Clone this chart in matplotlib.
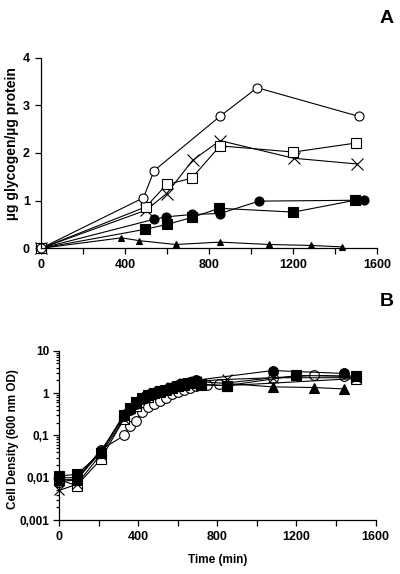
import numpy as np
import matplotlib
matplotlib.use("Agg")
import matplotlib.pyplot as plt
from matplotlib.ticker import FixedLocator, LogLocator, NullFormatter

plt.rcParams['font.family'] = ['Liberation Sans', 'DejaVu Sans']
plt.rcParams['font.weight'] = 'bold'

# ---- panel A: glycogen content ----
a_open_circle_t = [0, 488, 539, 853, 1030, 1513]
a_open_circle_y = [0, 1.06, 1.63, 2.77, 3.37, 2.77]

a_open_square_t = [0, 500, 599, 718, 853, 1203, 1502]
a_open_square_y = [0, 0.87, 1.34, 1.47, 2.15, 2.02, 2.21]

a_cross_t = [0, 500, 599, 723, 853, 1204, 1505]
a_cross_y = [0, 0.80, 1.15, 1.85, 2.26, 1.89, 1.77]

a_filled_circle_t = [0, 539, 594, 721, 853, 1039, 1541]
a_filled_circle_y = [0, 0.61, 0.66, 0.71, 0.73, 0.99, 1.01]

a_filled_square_t = [0, 497, 599, 721, 850, 1203, 1498]
a_filled_square_y = [0, 0.40, 0.50, 0.65, 0.84, 0.76, 1.01]

a_triangle_t = [0, 383, 469, 642, 853, 1088, 1287, 1435]
a_triangle_y = [0, 0.22, 0.16, 0.08, 0.13, 0.08, 0.06, 0.03]

# ---- panel B: cell density ----
b_filled_square_t = [0, 90, 210, 330, 360, 390, 420, 450, 480, 510, 540, 570, 600, 630, 660, 690, 720, 850, 1200, 1500]
b_filled_square_y = [0.011, 0.012, 0.038, 0.30, 0.44, 0.60, 0.78, 0.90, 1.0, 1.1, 1.2, 1.35, 1.5, 1.6, 1.75, 1.85, 1.6, 1.5, 2.6, 2.5]

b_filled_circle_t = [0, 90, 210, 330, 360, 390, 420, 450, 480, 510, 540, 570, 600, 630, 660, 690, 1080, 1440]
b_filled_circle_y = [0.010, 0.010, 0.042, 0.28, 0.40, 0.55, 0.72, 0.85, 0.95, 1.05, 1.2, 1.35, 1.55, 1.7, 1.85, 2.0, 3.4, 2.9]

b_triangle_t = [0, 90, 210, 330, 360, 390, 420, 450, 480, 510, 540, 570, 600, 630, 660, 690, 1080, 1290, 1440]
b_triangle_y = [0.009, 0.009, 0.040, 0.32, 0.45, 0.62, 0.80, 0.95, 1.05, 1.15, 1.3, 1.45, 1.6, 1.7, 1.8, 1.9, 1.4, 1.35, 1.25]

b_cross_t = [0, 90, 210, 330, 390, 450, 510, 570, 630, 690, 850, 1080, 1500]
b_cross_y = [0.005, 0.007, 0.035, 0.25, 0.55, 0.85, 1.1, 1.4, 1.7, 1.9, 2.1, 2.3, 2.3]

b_open_square_t = [0, 90, 210, 330, 390, 450, 510, 570, 630, 690, 720, 850, 1500]
b_open_square_y = [0.009, 0.0065, 0.027, 0.25, 0.5, 0.8, 1.05, 1.3, 1.55, 1.7, 1.55, 1.5, 2.2]

b_open_circle_t = [0, 90, 210, 330, 360, 390, 420, 450, 480, 510, 540, 570, 600, 630, 660, 690, 750, 810, 1080, 1290, 1440]
b_open_circle_y = [0.008, 0.009, 0.045, 0.10, 0.17, 0.22, 0.35, 0.46, 0.55, 0.65, 0.78, 0.95, 1.05, 1.15, 1.3, 1.45, 1.55, 1.65, 2.3, 2.6, 2.5]

b_ytick_vals = [0.001, 0.01, 0.1, 1, 10]
b_ytick_labels = ["0,001", "0,01", "0,1", "1", "10"]
x_ticks = [0, 400, 800, 1200, 1600]

fig = plt.figure(figsize=(4.0, 5.74), dpi=100)
axA = fig.add_axes([0.1025, 0.5674, 0.8395, 0.3321])
axB = fig.add_axes([0.1475, 0.094, 0.7915, 0.295])

lw = 0.8
ms = 6.5


def series(ax, t, y, marker, filled, size=ms):
    ax.plot(t, y, color='black', lw=lw, marker=marker, markersize=size,
            markerfacecolor='black' if filled else 'white',
            markeredgecolor='black', markeredgewidth=0.8, clip_on=False)


# panel A
series(axA, a_triangle_t, a_triangle_y, '^', True, 4)
series(axA, a_filled_square_t, a_filled_square_y, 's', True)
series(axA, a_filled_circle_t, a_filled_circle_y, 'o', True)
series(axA, a_cross_t, a_cross_y, 'x', False, 8)
series(axA, a_open_square_t, a_open_square_y, 's', False)
series(axA, a_open_circle_t, a_open_circle_y, 'o', False)

axA.set_xlim(0, 1600)
axA.set_ylim(0, 4)
axA.xaxis.set_major_locator(FixedLocator(x_ticks))
axA.xaxis.set_minor_locator(FixedLocator(np.arange(0, 1601, 200)))
axA.set_yticks([0, 1, 2, 3, 4])
axA.set_ylabel("µg glycogen/µg protein", fontsize=10, fontweight='bold')
axA.yaxis.set_label_coords(-0.066, 0.55)

# panel B
series(axB, b_open_circle_t, b_open_circle_y, 'o', False, 7)
series(axB, b_open_square_t, b_open_square_y, 's', False, 7)
series(axB, b_cross_t, b_cross_y, 'x', False, 7)
series(axB, b_triangle_t, b_triangle_y, '^', True, 7)
series(axB, b_filled_circle_t, b_filled_circle_y, 'o', True, 7)
series(axB, b_filled_square_t, b_filled_square_y, 's', True, 7)

axB.set_yscale('log')
axB.set_xlim(0, 1600)
axB.set_ylim(0.001, 10)
axB.xaxis.set_major_locator(FixedLocator(x_ticks))
axB.xaxis.set_minor_locator(FixedLocator(np.arange(0, 1601, 200)))
axB.set_yticks(b_ytick_vals)
axB.set_yticklabels(b_ytick_labels)
axB.yaxis.set_minor_locator(LogLocator(base=10, subs=np.arange(2, 10)))
axB.yaxis.set_minor_formatter(NullFormatter())
axB.set_ylabel("Cell Density (600 nm OD)", fontsize=8.5, fontweight='bold')
axB.yaxis.set_label_coords(-0.127, 0.478)
axB.set_xlabel("Time (min)", fontsize=8.5, fontweight='bold', labelpad=8)

for ax in (axA, axB):
    ax.spines['top'].set_visible(False)
    ax.spines['right'].set_visible(False)
    ax.spines['left'].set_linewidth(0.9)
    ax.spines['bottom'].set_linewidth(0.9)
    ax.tick_params(which='major', direction='out', length=4, width=0.9, labelsize=9, pad=4)
    ax.tick_params(which='minor', direction='out', length=4, width=0.9)
    for lab in ax.get_xticklabels() + ax.get_yticklabels():
        lab.set_fontweight('bold')
axB.tick_params(axis='y', which='minor', length=2.5)
axB.tick_params(axis='y', which='major', labelsize=8.5, pad=3)

fig.text(0.985, 0.982, "A", fontsize=14, fontweight='bold', ha='right', va='top')
fig.text(0.985, 0.49, "B", fontsize=14, fontweight='bold', ha='right', va='top')

fig.savefig("out.png", dpi=100)
